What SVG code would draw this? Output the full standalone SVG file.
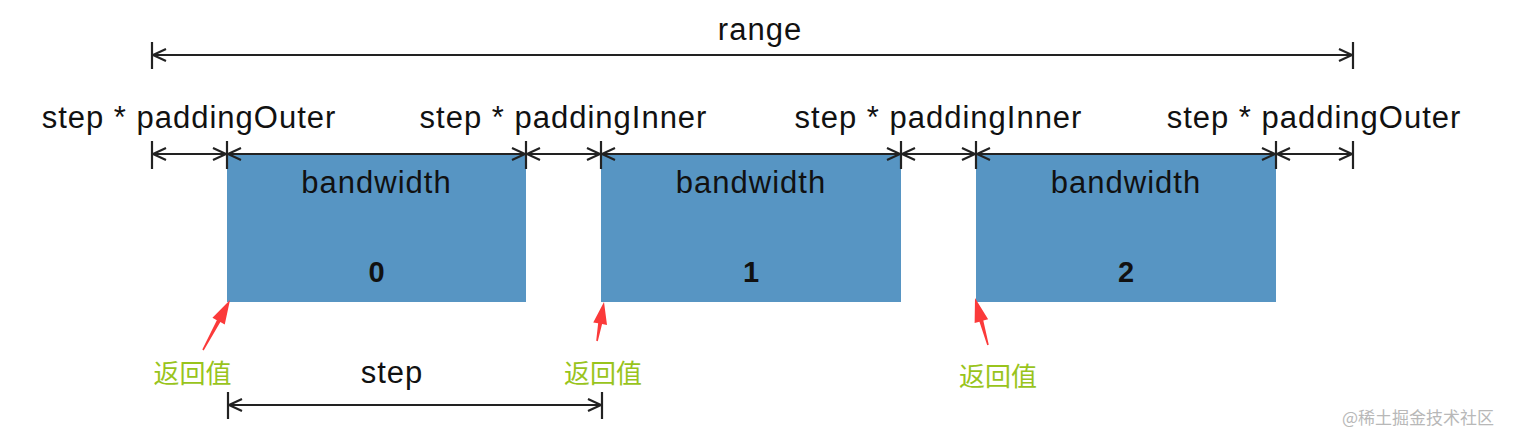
<svg xmlns="http://www.w3.org/2000/svg" width="1516" height="442" viewBox="0 0 1516 442">
<style>
.t{font-family:"Liberation Sans",Arial,Helvetica,sans-serif;font-size:31px;letter-spacing:1px;fill:#111;text-anchor:middle}
.d{font-family:"Liberation Sans",Arial,Helvetica,sans-serif;font-size:29px;font-weight:bold;fill:#111;text-anchor:middle}
.cn{font-family:"Noto Sans CJK SC","Noto Sans CJK JP",sans-serif;font-size:26px;fill:#99c41c;text-anchor:middle}
.wm{font-family:"Noto Sans CJK SC",sans-serif;font-size:17px;fill:#b8b8b8}
.box{fill:#5795c3}
.dim{stroke:#222;stroke-width:2.2;fill:none;marker-start:url(#ah);marker-end:url(#ah)}
.tick{stroke:#222;stroke-width:2.2}
.red{fill:#fb3a3a}
</style>
<defs>
<marker id="ah" viewBox="-16 -8 18 16" refX="0" refY="0" markerWidth="18" markerHeight="16" markerUnits="userSpaceOnUse" orient="auto-start-reverse">
<path d="M-13,-6 L0,0 L-13,6" fill="none" stroke="#222" stroke-width="2.2"/>
</marker>
</defs>
<rect width="1516" height="442" fill="#fff"/>
<g id="bar0"><rect class="box" x="227" y="155" width="299" height="147"/><text class="t" x="376.5" y="193">bandwidth</text><text class="d" x="376.5" y="282">0</text></g>
<g id="bar1"><rect class="box" x="601" y="155" width="300" height="147"/><text class="t" x="751" y="193">bandwidth</text><text class="d" x="751" y="282">1</text></g>
<g id="bar2"><rect class="box" x="976" y="155" width="300" height="147"/><text class="t" x="1126" y="193">bandwidth</text><text class="d" x="1126" y="282">2</text></g>
<g id="labels">
<text class="t" x="760" y="40">range</text>
<text class="t" x="189" y="128">step * paddingOuter</text>
<text class="t" x="563.5" y="128">step * paddingInner</text>
<text class="t" x="938.5" y="128">step * paddingInner</text>
<text class="t" x="1314" y="128">step * paddingOuter</text>
<text class="t" x="392" y="383">step</text>
<text class="cn" x="192.5" y="383">返回值</text>
<text class="cn" x="603" y="383">返回值</text>
<text class="cn" x="998" y="386">返回值</text>
<text class="wm" x="1342" y="424">@稀土掘金技术社区</text>
</g>
<g id="connectors">
<line class="tick" x1="152" y1="42" x2="152" y2="69"/>
<line class="tick" x1="1353" y1="42" x2="1353" y2="69"/>
<line class="dim" x1="153" y1="55" x2="1352" y2="55"/>
<line class="tick" x1="152" y1="141" x2="152" y2="169"/>
<line class="tick" x1="227" y1="141" x2="227" y2="169"/>
<line class="tick" x1="526" y1="141" x2="526" y2="169"/>
<line class="tick" x1="601" y1="141" x2="601" y2="169"/>
<line class="tick" x1="901" y1="141" x2="901" y2="169"/>
<line class="tick" x1="976" y1="141" x2="976" y2="169"/>
<line class="tick" x1="1276" y1="141" x2="1276" y2="169"/>
<line class="tick" x1="1353" y1="141" x2="1353" y2="169"/>
<line class="dim" x1="153" y1="154" x2="226" y2="154"/>
<line class="dim" x1="228" y1="154" x2="525" y2="154"/>
<line class="dim" x1="527" y1="154" x2="600" y2="154"/>
<line class="dim" x1="602" y1="154" x2="900" y2="154"/>
<line class="dim" x1="902" y1="154" x2="975" y2="154"/>
<line class="dim" x1="977" y1="154" x2="1275" y2="154"/>
<line class="dim" x1="1277" y1="154" x2="1352" y2="154"/>
<line class="tick" x1="228" y1="392" x2="228" y2="419"/>
<line class="tick" x1="602" y1="392" x2="602" y2="419"/>
<line class="dim" x1="229" y1="405" x2="601" y2="405"/>
<polygon class="red" points="230,300 224.76,324.45 220.36,322.07 203.7,350.38 202.3,349.62 216.84,320.17 212.44,317.79"/>
<polygon class="red" points="604,302 607,324.91 602.08,324.02 597.79,341.14 596.21,340.86 598.14,323.32 593.22,322.43"/>
<polygon class="red" points="975,298 988.12,319.25 983.31,320.58 988.77,344.79 987.23,345.21 979.45,321.64 974.64,322.97"/>
</g>
</svg>
